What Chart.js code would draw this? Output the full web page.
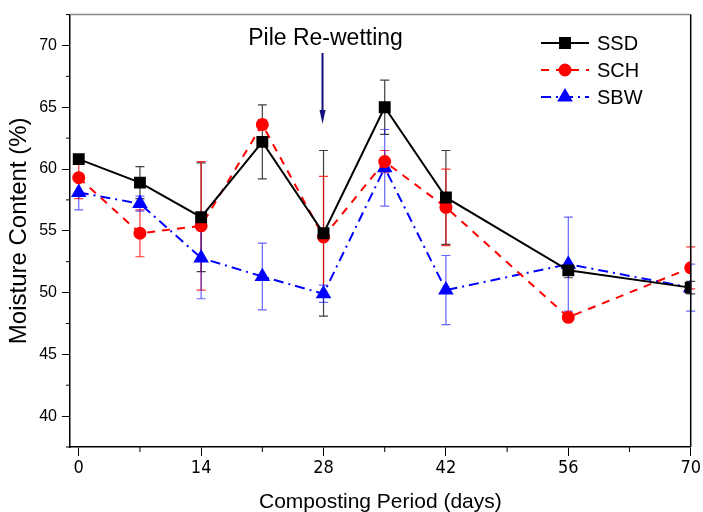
<!DOCTYPE html>
<html>
<head>
<meta charset="utf-8">
<script src="https://cdn.jsdelivr.net/npm/chart.js@4.4.1/dist/chart.umd.min.js"></script>
<style>
  html, body { margin: 0; padding: 0; background: #fff; }
  #wrap { width: 703px; height: 512px; }
</style>
</head>
<body>
<div id="wrap"><canvas id="myChart" width="703" height="512"></canvas></div>
<script>
let days = [0, 7, 14, 21, 28, 35, 42, 56, 70];
let ssd = [60.8, 58.9, 56.1, 62.2, 54.8, 65.0, 57.7, 51.8, 50.4];
let ssdErr = [0.3, 1.3, 4.4, 3.0, 6.7, 2.2, 3.8, 0.6, 0.5];
let sch = [59.3, 54.8, 55.4, 63.6, 54.5, 60.6, 56.9, 48.0, 52.0];
let schErr = [1.7, 1.9, 5.2, 0.4, 4.9, 0.9, 3.1, 0.3, 1.7];
let sbw = [58.1, 57.2, 52.8, 51.3, 49.9, 60.1, 50.2, 52.3, 50.4];
let sbwErr = [1.4, 0.6, 3.3, 2.7, 0.7, 3.1, 2.8, 3.8, 1.9];
let xTicks = [0, 14, 28, 42, 56, 70];
let xMinor = [7, 21, 35, 49, 63];
let yTicks = [40, 45, 50, 55, 60, 65, 70];
let yMinor = [37.5, 42.5, 47.5, 52.5, 57.5, 62.5, 67.5, 72.5];
let seriesNames = ["SSD", "SCH", "SBW"];
let rewetDay = 28;
let rewetLabel = "Pile Re-wetting";

const font = "'Liberation Sans', Arial, sans-serif";
const narrow = "'Liberation Sans Narrow', 'Arial Narrow', 'DejaVu Sans Condensed', sans-serif";

function points(values) {
  return days.map((d, i) => ({ x: d, y: values[i] }));
}

// error bars, annotation, frame, minor ticks and legend
const extras = {
  id: "extras",
  beforeDatasetsDraw(chart) {
    const ctx = chart.ctx;
    const xs = chart.scales.x;
    const ys = chart.scales.y;
    const errs = [ssdErr, schErr, sbwErr];
    const cols = ["rgba(0,0,0,0.75)", "rgba(255,0,0,0.8)", "rgba(0,0,255,0.6)"];
    chart.data.datasets.forEach((ds, k) => {
      ctx.save();
      ctx.strokeStyle = cols[k];
      ctx.lineWidth = 1.2;
      ds.data.forEach((p, i) => {
        const px = xs.getPixelForValue(p.x);
        const top = ys.getPixelForValue(p.y + errs[k][i]);
        const bot = ys.getPixelForValue(p.y - errs[k][i]);
        ctx.beginPath();
        ctx.moveTo(px, top);
        ctx.lineTo(px, bot);
        ctx.moveTo(px - 4.5, top);
        ctx.lineTo(px + 4.5, top);
        ctx.moveTo(px - 4.5, bot);
        ctx.lineTo(px + 4.5, bot);
        ctx.stroke();
      });
      ctx.restore();
    });
  },
  afterDraw(chart) {
    const ctx = chart.ctx;
    const a = chart.chartArea;
    const xs = chart.scales.x;
    const ys = chart.scales.y;
    ctx.save();
    // frame
    ctx.strokeStyle = "#888";
    ctx.lineWidth = 1.5;
    ctx.beginPath();
    ctx.moveTo(a.left, a.top);
    ctx.lineTo(a.right, a.top);
    ctx.stroke();
    ctx.strokeStyle = "#000";
    ctx.beginPath();
    ctx.moveTo(a.right, a.top);
    ctx.lineTo(a.right, a.bottom);
    ctx.stroke();
    // minor ticks
    ctx.lineWidth = 1;
    ctx.beginPath();
    xMinor.forEach((v) => {
      const px = xs.getPixelForValue(v);
      ctx.moveTo(px, a.bottom);
      ctx.lineTo(px, a.bottom + 5);
    });
    yMinor.forEach((v) => {
      const py = ys.getPixelForValue(v);
      ctx.moveTo(a.left, py);
      ctx.lineTo(a.left - 4, py);
    });
    ctx.stroke();

    // annotation arrow
    const ax = xs.getPixelForValue(rewetDay);
    ctx.fillStyle = "#000";
    ctx.font = "23px " + font;
    ctx.textAlign = "center";
    ctx.textBaseline = "alphabetic";
    ctx.fillText(rewetLabel, ax + 2, 45);
    ctx.strokeStyle = "#10107a";
    ctx.fillStyle = "#10107a";
    ctx.lineWidth = 2;
    ctx.beginPath();
    ctx.moveTo(ax - 1, 53);
    ctx.lineTo(ax - 1, 112);
    ctx.stroke();
    ctx.beginPath();
    ctx.moveTo(ax - 4, 110);
    ctx.lineTo(ax + 2, 110);
    ctx.lineTo(ax - 1, 124);
    ctx.closePath();
    ctx.fill();

    // legend
    const rows = [43, 70, 97];
    chart.data.datasets.forEach((ds, k) => {
      const y = rows[k];
      ctx.save();
      ctx.strokeStyle = ds.borderColor;
      ctx.lineWidth = 2;
      ctx.setLineDash(ds.borderDash || []);
      ctx.beginPath();
      ctx.moveTo(541, y);
      ctx.lineTo(589, y);
      ctx.stroke();
      ctx.setLineDash([]);
      ctx.strokeStyle = ds.pointBorderColor;
      ctx.fillStyle = ds.pointBackgroundColor;
      Chart.helpers.drawPoint(ctx, {
        pointStyle: ds.pointStyle,
        radius: ds.pointRadius,
        borderWidth: 1
      }, 565, y);
      ctx.restore();
      ctx.fillStyle = "#000";
      ctx.font = "20px " + font;
      ctx.textAlign = "left";
      ctx.textBaseline = "middle";
      ctx.fillText(seriesNames[k], 597, y + 1);
    });
    ctx.restore();
  }
};

const ctx = document.getElementById("myChart");

const myChart = new Chart(ctx, {
  type: "line",
  data: {
    datasets: [
      {
        label: seriesNames[0],
        data: points(ssd),
        borderColor: "#000",
        backgroundColor: "#000",
        pointBackgroundColor: "#000",
        pointBorderColor: "#000",
        pointStyle: "rect",
        pointRadius: 7,
        borderWidth: 2,
        tension: 0
      },
      {
        label: seriesNames[1],
        data: points(sch),
        borderColor: "#ff0000",
        backgroundColor: "#ff0000",
        pointBackgroundColor: "#ff0000",
        pointBorderColor: "#ff0000",
        pointStyle: "circle",
        pointRadius: 5.5,
        borderWidth: 2,
        borderDash: [8, 7],
        tension: 0
      },
      {
        label: seriesNames[2],
        data: points(sbw),
        borderColor: "#0000ff",
        backgroundColor: "#0000ff",
        pointBackgroundColor: "#0000ff",
        pointBorderColor: "#0000ff",
        pointStyle: "triangle",
        pointRadius: 7,
        borderWidth: 2,
        borderDash: [10, 5, 2, 5],
        tension: 0
      }
    ]
  },
  plugins: [extras],
  options: {
    responsive: false,
    animation: false,
    layout: { padding: { top: 14, right: 11, left: 0, bottom: 0 } },
    plugins: {
      legend: { display: false },
      tooltip: { enabled: false }
    },
    scales: {
      x: {
        type: "linear",
        min: -1,
        max: 70,
        afterBuildTicks: (scale) => {
          scale.ticks = xTicks.map((v) => ({ value: v }));
        },
        afterFit: (scale) => {
          scale.height = 65;
        },
        grid: {
          drawOnChartArea: false,
          drawTicks: true,
          tickLength: 9,
          tickColor: "#000"
        },
        border: { color: "#000", width: 1.5 },
        ticks: {
          color: "#000",
          padding: 2,
          font: { family: narrow, size: 18 }
        },
        title: {
          display: true,
          text: "Composting Period (days)",
          color: "#000",
          padding: { top: 0, bottom: 0 },
          font: { family: font, size: 21, lineHeight: 0.9 }
        }
      },
      y: {
        type: "linear",
        min: 37.5,
        max: 72.5,
        afterBuildTicks: (scale) => {
          scale.ticks = yTicks.map((v) => ({ value: v }));
        },
        afterFit: (scale) => {
          scale.width = 70;
        },
        grid: {
          drawOnChartArea: false,
          drawTicks: true,
          tickLength: 8,
          tickColor: "#000"
        },
        border: { color: "#000", width: 1.5 },
        ticks: {
          color: "#000",
          padding: 5,
          font: { family: font, size: 16 }
        },
        title: {
          display: true,
          text: "Moisture Content (%)",
          color: "#000",
          padding: { top: 5, bottom: 0 },
          font: { family: font, size: 24 }
        }
      }
    }
  }
});
</script>
</body>
</html>
